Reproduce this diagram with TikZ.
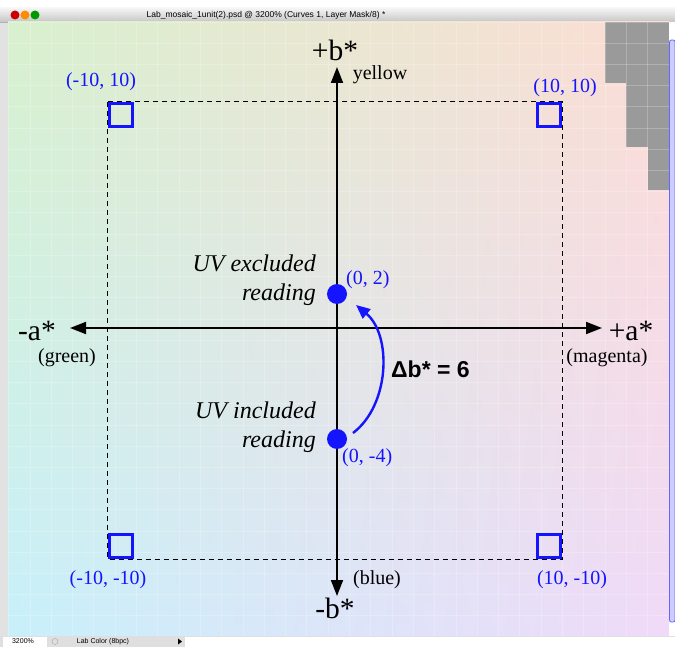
\documentclass[tikz,border=0pt]{standalone}
\usepackage{fontspec}
\setmainfont{Liberation Serif}
\newfontfamily\sansf{Liberation Sans}
\usetikzlibrary{arrows.meta}
\definecolor{cTL}{RGB}{216,240,206}
\definecolor{cTR}{RGB}{252,221,212}
\definecolor{cBL}{RGB}{200,240,250}
\definecolor{cBR}{RGB}{240,218,248}
\definecolor{pgray}{RGB}{154,154,154}
\definecolor{chrome}{RGB}{226,226,226}
\definecolor{ptblue}{RGB}{20,20,255}
\tikzset{
  axisline/.style={line width=1.8pt,{Triangle[length=16pt,width=12pt]}-{Triangle[length=16pt,width=12pt]}},
  axislbl/.style={font=\fontsize{29.5}{32}\selectfont,inner sep=0pt},
  sublbl/.style={font=\fontsize{20}{22}\selectfont,inner sep=0pt},
  ptlbl/.style={font=\fontsize{20}{22}\selectfont,text=ptblue,inner sep=0pt},
  cornerbox/.style={draw=ptblue,line width=3.3pt,minimum size=23pt,inner sep=0pt},
  dotpt/.style={circle,fill=ptblue,minimum size=20pt,inner sep=0pt},
  uvlbl/.style={font=\fontsize{24}{28.5}\selectfont\itshape,align=right,inner sep=0pt},
  gridln/.style={white,opacity=0.22,line width=0.6pt},
}
\begin{document}
\begin{tikzpicture}[x=1pt,y=-1pt]
\useasboundingbox (0,0) rectangle (675,647);
% window chrome
\fill[white] (0,0) rectangle (675,647);
\fill[chrome] (0,8) rectangle (675,647);
\shade[top color=white!92!gray,bottom color=gray!45] (0,8) rectangle (675,22);
\draw[gray!60,line width=0.5pt] (0,22) -- (675,22);
\fill[red!80!black] (15,15) circle (4.5);
\fill[orange!90!yellow] (25,15) circle (4.5);
\fill[green!60!black] (35,15) circle (4.5);
\node[font=\sansf\fontsize{8.5}{9}\selectfont,inner sep=0pt] (title) at (266,15.5) {Lab\_mosaic\_1unit(2).psd @ 3200\% (Curves 1, Layer Mask/8) *};
% canvas background: bilinear gradient built from horizontal strips
\foreach \k in {0,...,59} {
  \pgfmathtruncatemacro{\p}{round(100*\k/59)}
  \colorlet{rowL}{cBL!\p!cTL}
  \colorlet{rowR}{cBR!\p!cTR}
  \fill[left color=rowL,right color=rowR] (8,{22+10.233*\k}) rectangle (669,{22+10.233*(\k+1)+0.6});
}
% gray pixels
\fill[pgray] (605,22) rectangle (669,83);
\fill[pgray] (626,83) rectangle (669,147);
\fill[pgray] (648,147) rectangle (669,190);
% pixel grid
\foreach \k in {0,...,31} {\draw[gridln] ({8.5+21.3*\k},22) -- ({8.5+21.3*\k},636);}
\foreach \k in {0,...,28} {\draw[gridln] (8,{22+21.2*\k}) -- (669,{22+21.2*\k});}
% scrollbar
\fill[white] (669,22) rectangle (675,636);
\fill[blue!20,draw=blue!60,line width=0.8pt,rounded corners=2pt] (669.5,40) rectangle (675,622);
% status bar
\fill[gray!25] (0,636) rectangle (675,647);
\fill[white] (3,637) rectangle (47,647);
\fill[white] (185,637) rectangle (675,647);
\draw[gray!70] (55,641.5) circle (3);
\node[font=\sansf\fontsize{7}{8}\selectfont,inner sep=0pt] (zoomtxt) at (23,641.5) {3200\%};
\node[font=\sansf\fontsize{7}{8}\selectfont,inner sep=0pt] (modetxt) at (103,641.5) {Lab Color (8bpc)};
\fill[black] (178,638.5) -- (182,641.5) -- (178,644.5) -- cycle;
% corner boxes
\node[cornerbox] (sqTL) at (121,115) {};
\node[cornerbox] (sqTR) at (549,115) {};
\node[cornerbox] (sqBL) at (121,546) {};
\node[cornerbox] (sqBR) at (549,546) {};
\draw[dashed,line width=1.1pt,dash pattern=on 5pt off 4pt] (sqTL.north west) rectangle (sqBR.south east);
\node[cornerbox] at (sqTL) {};
\node[cornerbox] at (sqTR) {};
\node[cornerbox] at (sqBL) {};
\node[cornerbox] at (sqBR) {};
\node[ptlbl] (lTL) at (101,82) {(-10, 10)};
\node[ptlbl] (lTR) at (565,88) {(10, 10)};
\node[ptlbl] (lBL) at (108,580) {(-10, -10)};
\node[ptlbl] (lBR) at (572,580) {(10, -10)};
% axes
\coordinate (xL) at (70,328);
\coordinate (xR) at (602,328);
\coordinate (yT) at (337,67);
\coordinate (yB) at (337,596);
\draw[axisline] (xL) -- (xR);
\draw[axisline] (yB) -- (yT);
\node[axislbl] (pb) at (335,50) {+b*};
\node[sublbl] (yel) at (380,75) {yellow};
\node[axislbl] (mb) at (335,608) {-b*};
\node[sublbl] (blu) at (377,580) {(blue)};
\node[axislbl] (ma) at (37,331) {-a*};
\node[sublbl] (grn) at (67,358) {(green)};
\node[axislbl] (pa) at (631,331) {+a*};
\node[sublbl] (mag) at (607,358) {(magenta)};
% points
\node[dotpt] (p2) at (337,294) {};
\node[dotpt] (p4) at (337,439) {};
\node[ptlbl,anchor=west] (l2) at (346,280) {(0, 2)};
\node[ptlbl,anchor=west] (l4) at (342,458) {(0, -4)};
\node[uvlbl,anchor=east] (uvx) at (316,280) {UV excluded\\reading};
\node[uvlbl,anchor=east] (uvi) at (316,427) {UV included\\reading};
% shift arrow
\path (p4) ++(16,-6) coordinate (a0);
\path (p2) ++(19,11) coordinate (a1);
\draw[ptblue,line width=2.4pt,-{Triangle[length=14pt,width=12pt]}] (a0) .. controls (390,405) and (392,335) .. (a1);
\node[font=\sansf\bfseries\fontsize{23}{26}\selectfont,inner sep=0pt,anchor=west] (db) at (391,369) {Δb* = 6};
\end{tikzpicture}
\end{document}
